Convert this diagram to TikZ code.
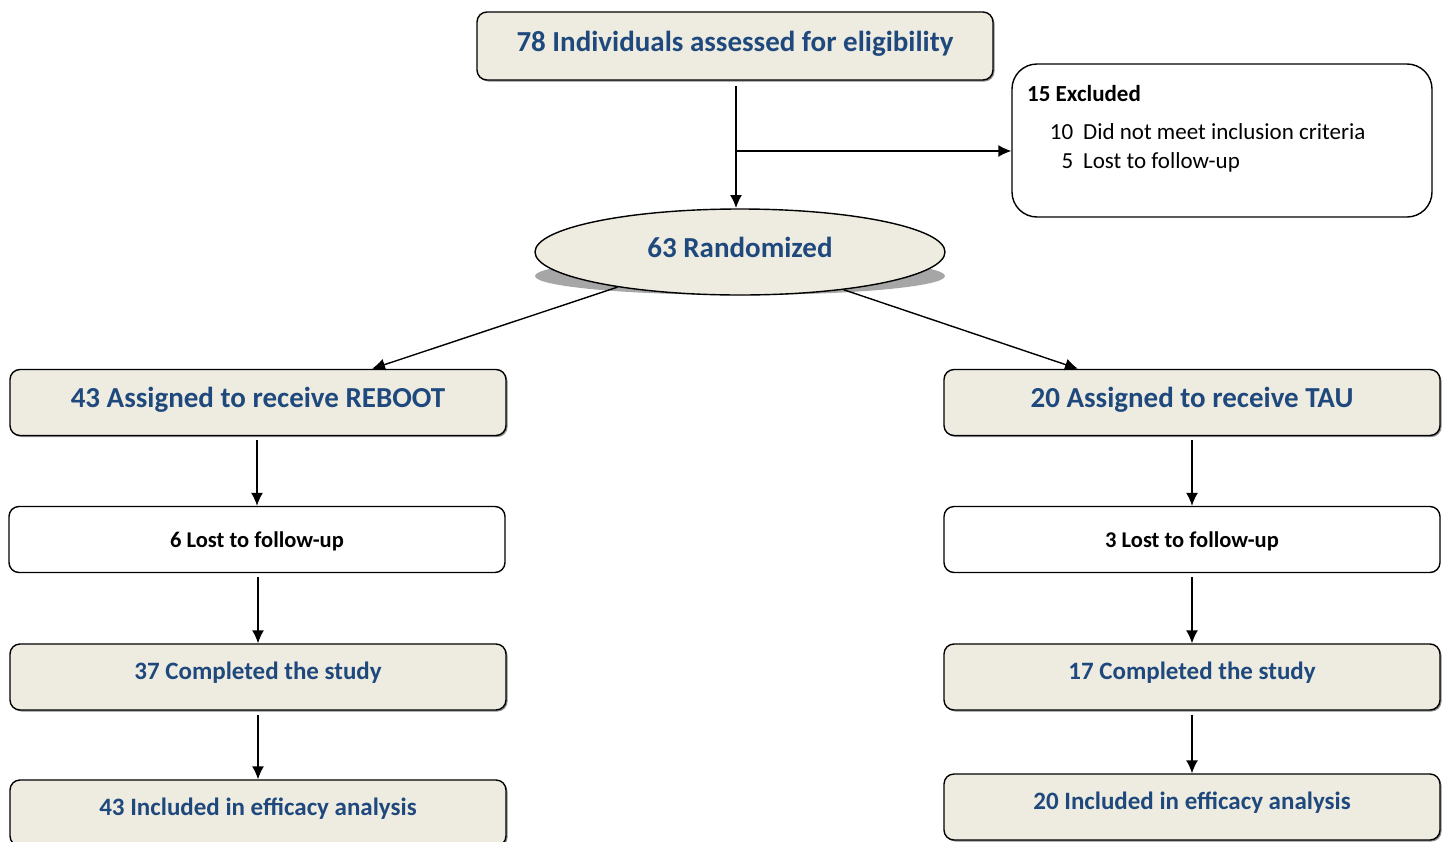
\documentclass[tikz,border=0pt]{standalone}
\usepackage{fontspec}
\setmainfont{Carlito}
\usepackage{tikz}
\usetikzlibrary{shapes.geometric,arrows.meta,shadows}

\definecolor{boxfill}{HTML}{EEECE1}
\definecolor{boxtext}{HTML}{1F497D}

\tikzset{
    bluebox/.style={draw, line width=1.4pt, rounded corners=10pt, fill=boxfill,
        minimum width=496pt, minimum height=66pt, inner sep=0pt, text=boxtext,
        font=\fontsize{25}{30}\selectfont\bfseries, text height=18pt, text depth=14pt,
        drop shadow={shadow xshift=1.5pt, shadow yshift=-1.5pt, fill=black, opacity=0.45}},
    bigtext/.style={font=\fontsize{29}{34}\selectfont\bfseries, text height=21pt, text depth=11pt},
    whitebox/.style={draw, line width=1.4pt, rounded corners=10pt, fill=white,
        minimum width=496pt, minimum height=66pt, inner sep=0pt,
        font=\fontsize{22.5}{27}\selectfont\bfseries, text height=17pt, text depth=2pt},
    flow/.style={line width=1.4pt, -{Latex[length=13pt,width=12pt]}}
}

\begin{document}
\begin{tikzpicture}[x=1pt, y=-1pt]
    \useasboundingbox (0,0) rectangle (1443,841);

    \node[bluebox, bigtext, minimum width=516pt, minimum height=68pt] (top) at (735,46)
        {78 Individuals assessed for eligibility};

    \node[draw, line width=1.4pt, rounded corners=25pt, minimum width=420pt,
        minimum height=153pt] (excl) at (1222,140.5) {};
    \node[anchor=north west, inner sep=0pt, font=\fontsize{23}{29}\selectfont] (excltext)
        at (1027,81) {%
        \begin{tabular}{@{}r@{\hspace{10pt}}l@{}}
            \multicolumn{2}{@{}l@{}}{\bfseries 15 Excluded}\\[9pt]
            \makebox[46pt][r]{10} & Did not meet inclusion criteria\\
            5 & Lost to follow-up
        \end{tabular}};

    \fill[black!35] (740,276) ellipse [x radius=205, y radius=19];
    \node[draw, ellipse, line width=1.4pt, fill=boxfill, minimum width=410pt,
        minimum height=86pt, inner sep=0pt, text=boxtext, bigtext] (rand) at (740,252)
        {63 Randomized};

    \node[bluebox, bigtext] (reb) at (258,402.5) {43 Assigned to receive REBOOT};
    \node[bluebox, bigtext] (tau) at (1192,402.5) {20 Assigned to receive TAU};

    \node[whitebox] (lost1) at (257,539.5) {6 Lost to follow-up};
    \node[whitebox] (lost2) at (1192,539.5) {3 Lost to follow-up};

    \node[bluebox] (comp1) at (258,677) {37 Completed the study};
    \node[bluebox] (comp2) at (1192,677) {17 Completed the study};

    \node[bluebox] (incl1) at (258,813) {43 Included in efficacy analysis};
    \node[bluebox] (incl2) at (1192,807) {20 Included in efficacy analysis};

    \coordinate (split) at (736,151);
    \draw[flow, shorten <=6pt] (736,80) -- (736,208);
    \draw[flow] (split) -- (split -| excl.west);

    \draw[flow] (rand.196) -- ([xshift=114pt]reb.north);
    \draw[flow] (rand.340) -- ([xshift=-114pt]tau.north);

    \foreach \a/\b in {reb/lost1, lost1/comp1, comp1/incl1, tau/lost2, lost2/comp2, comp2/incl2}
        \draw[flow, shorten <=4pt] (\a.south -| \b) -- (\b.north);
\end{tikzpicture}
\end{document}
